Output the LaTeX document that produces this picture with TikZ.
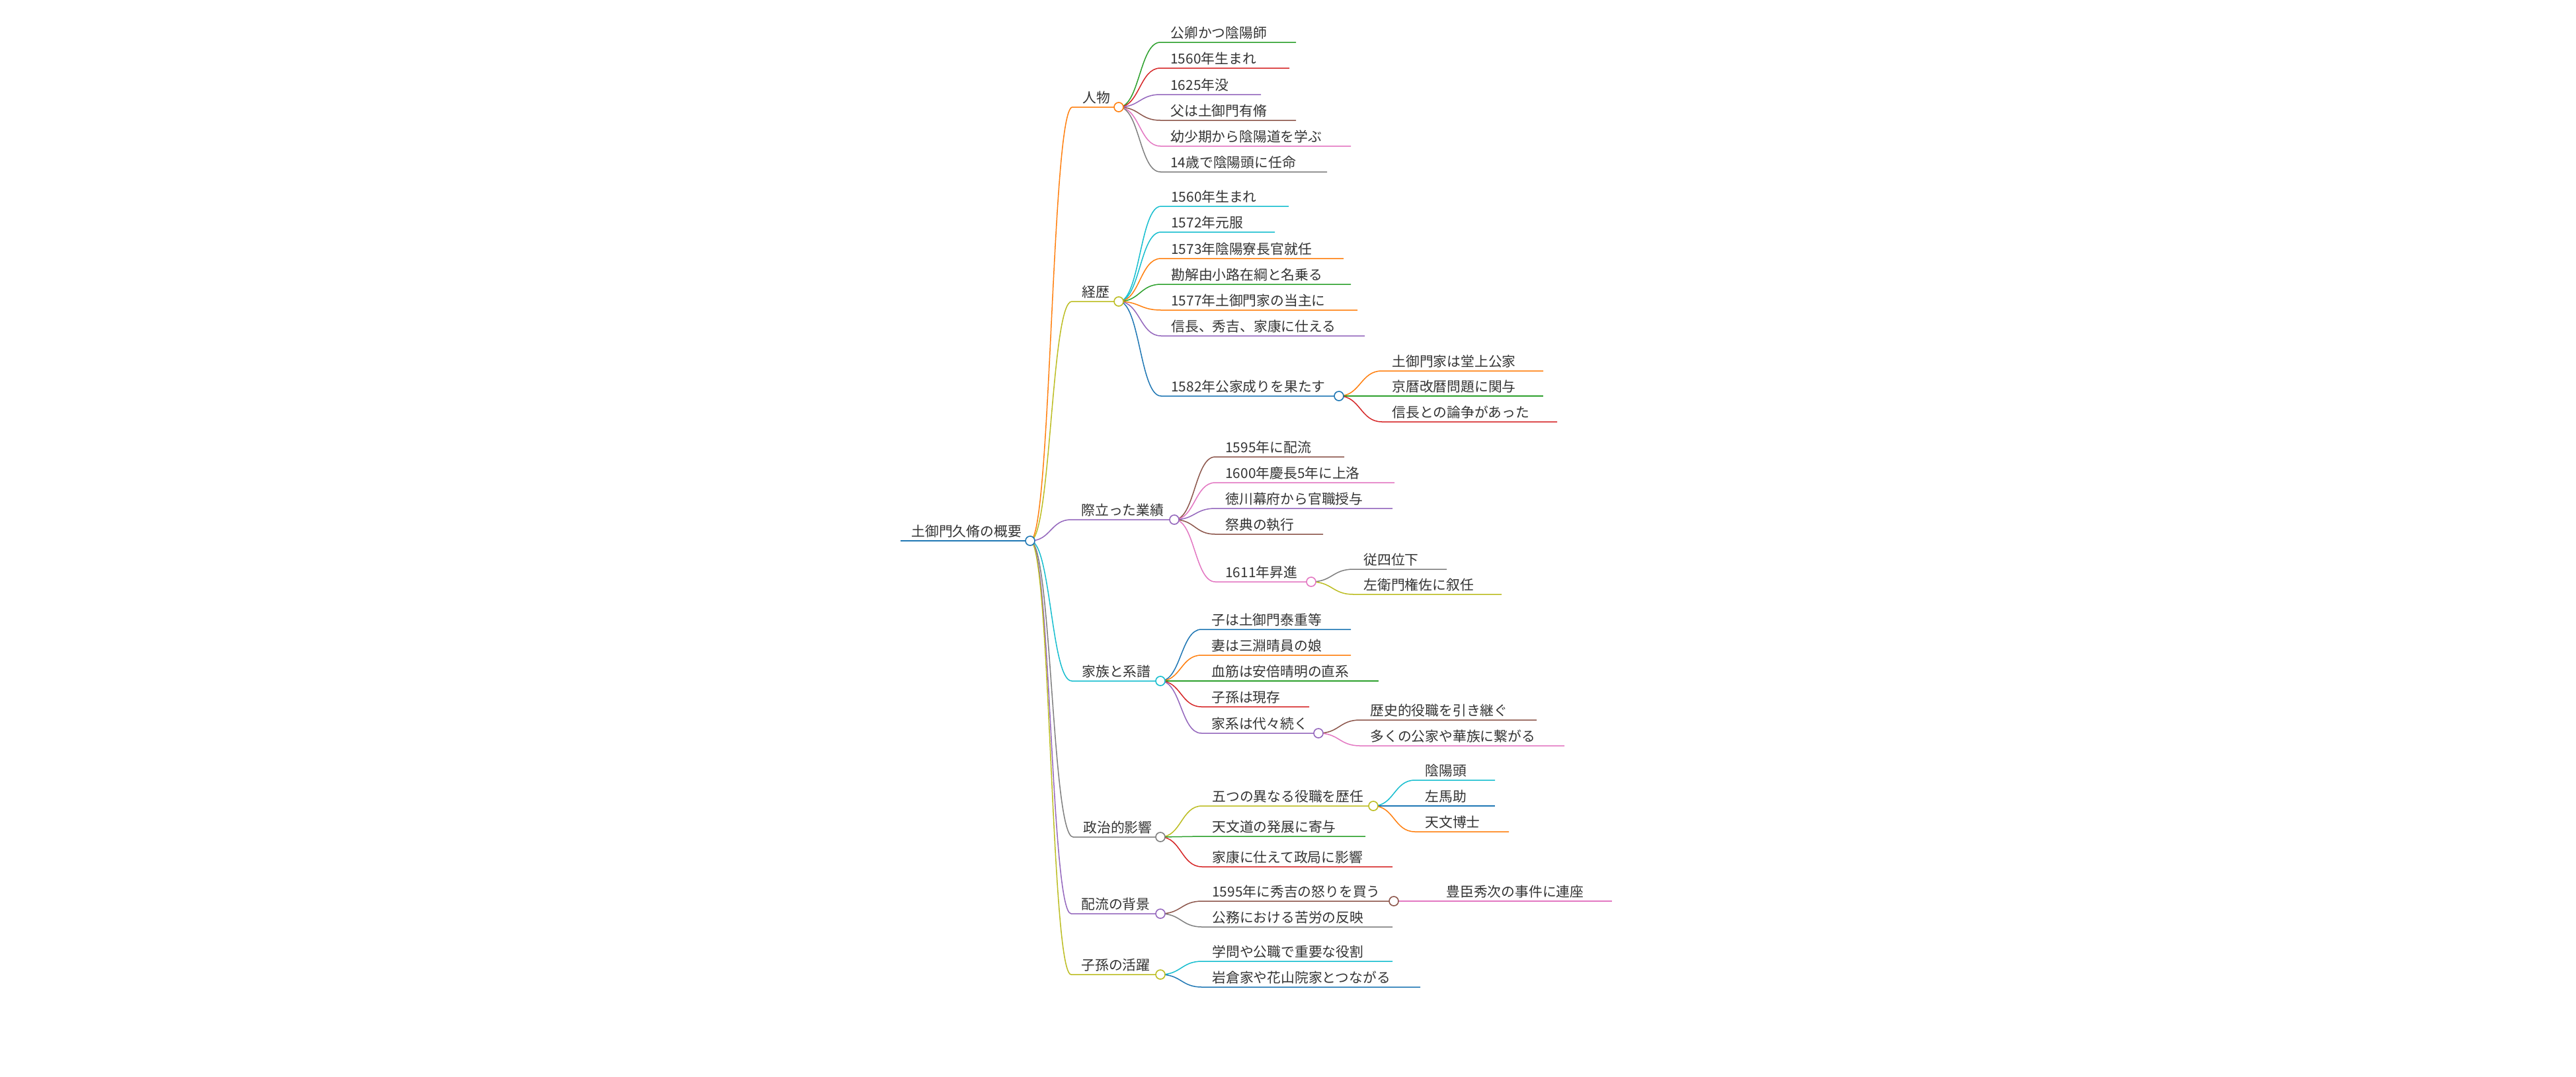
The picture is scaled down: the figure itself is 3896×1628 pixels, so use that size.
\documentclass[tikz,border=0pt]{standalone}
\usepackage{fontspec}
\setmainfont{Noto Sans CJK JP}
\usetikzlibrary{calc}
\definecolor{cblue}{HTML}{1F77B4}
\definecolor{corange}{HTML}{FF7F0E}
\definecolor{cgreen}{HTML}{2CA02C}
\definecolor{cred}{HTML}{D62728}
\definecolor{cpurple}{HTML}{9467BD}
\definecolor{cbrown}{HTML}{8C564B}
\definecolor{cpink}{HTML}{E377C2}
\definecolor{cgray}{HTML}{7F7F7F}
\definecolor{colive}{HTML}{BCBD22}
\definecolor{ccyan}{HTML}{17BECF}
\definecolor{txtc}{HTML}{333333}
% #1 parent, #2 name, #3 start x, #4 y, #5 end x, #6 colour, #7 text
\newcommand\mmleaf[7]{%
  \coordinate (#2s) at (#3,#4);
  \coordinate (#2) at (#5,#4);
  \draw[edge,#6] (#1) to[link] (#2s) -- (#2);
  \node[txt,anchor=base west] (#2t) at ([shift={(15,-7)}]#2s) {#7};
}
\begin{document}
\begin{tikzpicture}[x=0.5pt,y=-0.5pt,
  edge/.style={line width=0.75pt},
  link/.style={to path={let \p1=(\tikztostart),\p2=(\tikztotarget) in
     .. controls ({0.5*\x1+0.5*\x2},\y1) and ({0.5*\x1+0.5*\x2},\y2) .. (\tikztotarget)}},
  txt/.style={inner sep=0pt, text=txtc, font=\fontsize{10.4pt}{12pt}\selectfont},
  dot/.style={circle, fill=white, line width=0.8pt, minimum size=7pt, inner sep=0pt}]
\useasboundingbox[fill=white] (0,0) rectangle (3896,1628);

% root
\coordinate (rs) at (1362,818);
\coordinate (r) at (1558,818);
\draw[cblue, line width=1.2pt] (rs) -- (r);
\node[txt,anchor=base west] (rt) at ([shift={(16,-7)}]rs) {土御門久脩の概要};

% 人物
\mmleaf{r}{b1}{1622}{162}{1692}{corange}{人物}
\mmleaf{b1}{b1a}{1755}{64}{1960}{cgreen}{公卿かつ陰陽師}
\mmleaf{b1}{b1b}{1755}{103}{1950}{cred}{1560年生まれ}
\mmleaf{b1}{b1c}{1755}{143}{1907}{cpurple}{1625年没}
\mmleaf{b1}{b1d}{1755}{182}{1960}{cbrown}{父は土御門有脩}
\mmleaf{b1}{b1e}{1755}{221}{2043}{cpink}{幼少期から陰陽道を学ぶ}
\mmleaf{b1}{b1f}{1755}{260}{2007}{cgray}{14歳で陰陽頭に任命}

% 経歴
\mmleaf{r}{b2}{1621}{456}{1692}{colive}{経歴}
\mmleaf{b2}{b2a}{1756}{312}{1949}{ccyan}{1560年生まれ}
\mmleaf{b2}{b2b}{1756}{351}{1928}{ccyan}{1572年元服}
\mmleaf{b2}{b2c}{1756}{391}{2032}{corange}{1573年陰陽寮長官就任}
\mmleaf{b2}{b2d}{1756}{430}{2043}{cgreen}{勘解由小路在綱と名乗る}
\mmleaf{b2}{b2e}{1756}{469}{2053}{corange}{1577年土御門家の当主に}
\mmleaf{b2}{b2f}{1756}{508}{2064}{cpurple}{信長、秀吉、家康に仕える}
\mmleaf{b2}{b2g}{1756}{599}{2025}{cblue}{1582年公家成りを果たす}
\mmleaf{b2g}{b2ga}{2090}{561}{2334}{corange}{土御門家は堂上公家}
\mmleaf{b2g}{b2gb}{2090}{599}{2334}{cgreen}{京暦改暦問題に関与}
\mmleaf{b2g}{b2gc}{2090}{638}{2355}{cred}{信長との論争があった}

% 際立った業績
\mmleaf{r}{b3}{1620}{786}{1776}{cpurple}{際立った業績}
\mmleaf{b3}{b3a}{1838}{691}{2033}{cbrown}{1595年に配流}
\mmleaf{b3}{b3b}{1838}{730}{2109}{cpink}{1600年慶長5年に上洛}
\mmleaf{b3}{b3c}{1838}{769}{2106}{cpurple}{徳川幕府から官職授与}
\mmleaf{b3}{b3d}{1838}{808}{2001}{cbrown}{祭典の執行}
\mmleaf{b3}{b3e}{1838}{880}{1983}{cpink}{1611年昇進}
\mmleaf{b3e}{b3ea}{2047}{861}{2188}{cgray}{従四位下}
\mmleaf{b3e}{b3eb}{2047}{899}{2271}{colive}{左衛門権佐に叙任}

% 家族と系譜
\mmleaf{r}{b4}{1621}{1030}{1755}{ccyan}{家族と系譜}
\mmleaf{b4}{b4a}{1817}{952}{2043}{cblue}{子は土御門泰重等}
\mmleaf{b4}{b4b}{1817}{991}{2043}{corange}{妻は三淵晴員の娘}
\mmleaf{b4}{b4c}{1817}{1030}{2085}{cgreen}{血筋は安倍晴明の直系}
\mmleaf{b4}{b4d}{1817}{1069}{1980}{cred}{子孫は現存}
\mmleaf{b4}{b4e}{1817}{1109}{1994}{cpurple}{家系は代々続く}
\mmleaf{b4e}{b4ea}{2057}{1089}{2324}{cbrown}{歴史的役職を引き継ぐ}
\mmleaf{b4e}{b4eb}{2057}{1128}{2366}{cpink}{多くの公家や華族に繋がる}

% 政治的影響
\mmleaf{r}{b5}{1623}{1266}{1755}{cgray}{政治的影響}
\mmleaf{b5}{b5a}{1818}{1219}{2077}{colive}{五つの異なる役職を歴任}
\mmleaf{b5a}{b5aa}{2140}{1180}{2261}{ccyan}{陰陽頭}
\mmleaf{b5a}{b5ab}{2140}{1219}{2261}{cblue}{左馬助}
\mmleaf{b5a}{b5ac}{2140}{1258}{2282}{corange}{天文博士}
\mmleaf{b5}{b5b}{1818}{1265}{2065}{cgreen}{天文道の発展に寄与}
\mmleaf{b5}{b5c}{1818}{1311}{2106}{cred}{家康に仕えて政局に影響}

% 配流の背景
\mmleaf{r}{b6}{1620}{1382}{1755}{cpurple}{配流の背景}
\mmleaf{b6}{b6a}{1818}{1363}{2108}{cbrown}{1595年に秀吉の怒りを買う}
\mmleaf{b6a}{b6aa}{2172}{1363}{2438}{cpink}{豊臣秀次の事件に連座}
\mmleaf{b6}{b6b}{1818}{1402}{2106}{cgray}{公務における苦労の反映}

% 子孫の活躍
\mmleaf{r}{b7}{1620}{1474}{1755}{colive}{子孫の活躍}
\mmleaf{b7}{b7a}{1818}{1454}{2106}{ccyan}{学問や公職で重要な役割}
\mmleaf{b7}{b7b}{1818}{1493}{2148}{cblue}{岩倉家や花山院家とつながる}

% circles
\foreach \n/\c in {r/cblue, b1/corange, b2/colive, b2g/cblue, b3/cpurple, b3e/cpink,
  b4/ccyan, b4e/cpurple, b5/cgray, b5a/colive, b6/cpurple, b6a/cbrown, b7/colive}
  \node[dot, draw=\c] (\n c) at (\n) {};
\end{tikzpicture}
\end{document}
